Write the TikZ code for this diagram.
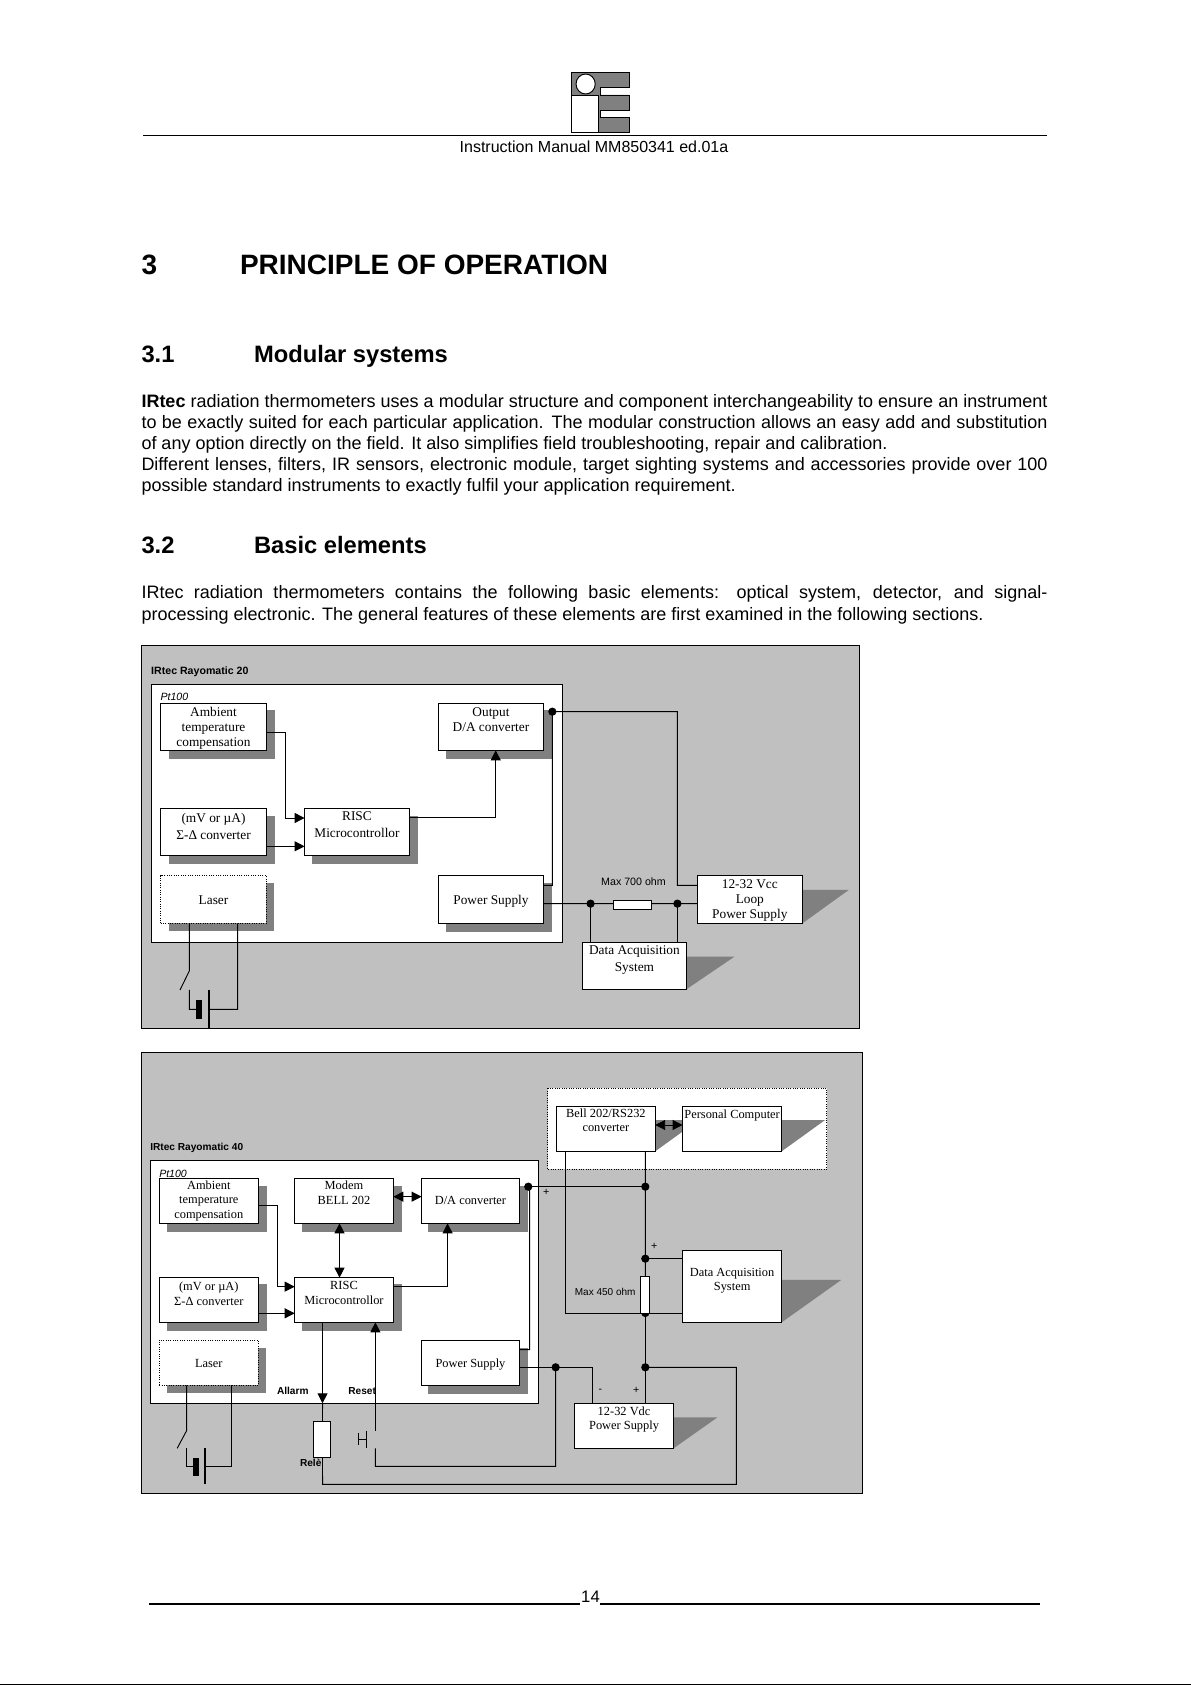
\documentclass[tikz,border=0pt]{standalone}
\usepackage{fontspec}
\setmainfont{Liberation Sans}
\newfontfamily\serifbox{Liberation Serif}
\usetikzlibrary{arrows.meta}
\tikzset{
  panel/.style={draw=black,line width=0.7pt,fill=panelgray},
  shade/.style={fill=shadowgray,draw=none},
  boxst/.style={draw=black,line width=0.75pt,fill=white,inner sep=0pt,outer sep=0pt},
  dotbox/.style={densely dotted},
  wire/.style={draw=black,line width=0.7pt},
  arr/.style={wire,-{Triangle[length=7.5pt,width=7.5pt]}},
  darr/.style={wire,{Triangle[length=7.5pt,width=7.5pt]}-{Triangle[length=7.5pt,width=7.5pt]}},
  jn/.style={circle,fill=black,draw=none,minimum size=6.2pt,inner sep=0pt,outer sep=0pt},
  res/.style={draw=black,line width=0.7pt,fill=white,inner sep=0pt,outer sep=0pt},
  txt/.style={inner sep=0pt,outer sep=0pt},
  fa/.style={font=\serifbox\fontsize{10}{11.5}\selectfont},
  fb/.style={font=\serifbox\fontsize{9.3}{11.2}\selectfont},
  lab/.style={txt,font=\fontsize{8}{10}\selectfont},
  blab/.style={txt,font=\bfseries\fontsize{7.6}{10}\selectfont},
  ilab/.style={txt,font=\itshape\fontsize{7.9}{10}\selectfont},
  body/.style={txt,anchor=base west,font=\fontsize{13.5}{16}\selectfont},
  hone/.style={txt,anchor=base west,font=\bfseries\fontsize{21}{24}\selectfont},
  htwo/.style={txt,anchor=base west,font=\bfseries\fontsize{17.8}{21}\selectfont},
}
\definecolor{panelgray}{HTML}{C0C0C0}
\definecolor{shadowgray}{HTML}{808080}
% [options]{name}{x1}{y1}{x2}{y2}{first-line offset}{text}
\newcommand\zbox[8][]{%
  \pgfmathsetlengthmacro\zw{(#5-#3)*0.4719*0.75}%
  \pgfmathsetlengthmacro\zh{(#6-#4)*0.25}%
  \pgfmathsetlengthmacro\zg{#7*0.25-4.8}%
  \node[boxst,#1,minimum width=\zw,minimum height=\zh,anchor=north west] (#2) at (#3,#4)
    {\parbox[c][\zh][t]{\zw}{\centering\vspace*{\zg}\strut #8}};}
\newcommand\zshade[4]{\fill[shade] (#1,#2) rectangle (#3,#4);}
\newcommand\zwedge[4]{\fill[shade] (#1,#2) -- (#3,#2) -- (#1,#4) -- cycle;}
\newcommand\jline[3]{\node[body] (#1) at (141.5,#2) {\makebox[679.5pt][s]{#3}};}
\newcommand\pline[3]{\node[body] (#1) at (141.5,#2) {#3};}
\begin{document}
\begin{tikzpicture}[x=0.75pt,y=-0.75pt]
\useasboundingbox (0,0) rectangle (1191,1685);
\fill[white] (0,0) rectangle (1191,1685);

% ---------- header ----------
\begin{scope}[shift={(130,50)},xscale=0.5995,yscale=0.3333]
  \draw[black,line width=0.7pt,fill=shadowgray] (737,67) -- (833,67) -- (833,112) -- (785,112) -- (785,135) -- (833,135) -- (833,180) -- (785,180) -- (785,202) -- (833,202) -- (833,248) -- (737,248) -- cycle;
  \draw[black,line width=0.7pt,fill=white] (737,137) rectangle (782,246);
  \draw[black,line width=0.7pt,fill=white] (760,102) ellipse [x radius=16,y radius=30];
\end{scope}
\draw[black,line width=0.7pt] (143,135.3) -- (1047,135.3);
\node[txt,anchor=base,font=\fontsize{12}{14}\selectfont] (hdr) at (594,152) {Instruction Manual MM850341 ed.01a};

% ---------- text ----------
\node[hone] (n3) at (141.5,274) {3};
\node[hone] (t3) at (240,274) {PRINCIPLE OF OPERATION};
\node[htwo] (n31) at (141.5,362) {3.1};
\node[htwo] (t31) at (254,362) {Modular systems};
\jline{l1}{407.7}{\textbf{IRtec} radiation thermometers uses a modular structure and component interchangeability to ensure an instrument}
\jline{l2}{428.5}{to be exactly suited for each particular application. The modular construction allows an easy add and substitution}
\pline{l3}{449}{of any option directly on the field. It also simplifies field troubleshooting, repair and calibration.}
\jline{l4}{470}{Different lenses, filters, IR sensors, electronic module, target sighting systems and accessories provide over 100}
\pline{l5}{491.3}{possible standard instruments to exactly fulfil your application requirement.}
\node[htwo] (n32) at (141.5,553.3) {3.2};
\node[htwo] (t32) at (254,553.3) {Basic elements};
\jline{l6}{598.7}{IRtec radiation thermometers contains the following basic elements: optical system, detector, and signal-}
\pline{l7}{620}{processing electronic. The general features of these elements are first examined in the following sections.}

% ---------- diagram 1 ----------
\begin{scope}[shift={(130,630)},xscale=0.4719,yscale=0.3333]
  \draw[panel] (24,46) rectangle (1546,1195);
  \draw[boxst] (45,164) rectangle (916,937);
  \node[blab,anchor=west,font=\bfseries\fontsize{7.95}{10}\selectfont] (d1t) at (45,124) {IRtec Rayomatic 20};
  \node[ilab,anchor=west] (d1p) at (65,201) {Pt100};
  \zshade{83}{240}{307}{386}
  \zshade{83}{558}{307}{701}
  \zshade{386}{558}{610}{701}
  \zshade{670}{240}{894}{386}
  \zshade{670}{759}{894}{906}
  \zshade{83}{759}{305}{903}
  \zwedge{1425}{780}{1523}{880}
  \zwedge{1179}{980}{1281}{1078}
  \zbox[fa]{aamb}{65}{221}{289}{361}{24}{Ambient\\temperature\\compensation}
  \zbox[fa]{asd}{65}{536}{289}{676}{28}{(mV or µA)\\[1.5pt]Σ-Δ converter}
  \zbox[fa]{arisc}{370}{536}{592}{676}{24}{RISC\\[1pt]Microcontrollor}
  \zbox[fa]{aout}{654}{221}{876}{361}{24}{Output\\D/A converter}
  \zbox[fa]{aps}{654}{737}{876}{880}{73}{Power Supply}
  \zbox[fa,dotbox]{alas}{65}{737}{289}{880}{73}{Laser}
  \zbox[fa]{aloop}{1202}{737}{1425}{880}{25}{12-32 Vcc\\Loop\\Power Supply}
  \zbox[fa]{adaq}{959}{938}{1179}{1078}{24}{Data Acquisition\\[1pt]System}
  \draw[res] (1024,811) rectangle (1105,838);
  \coordinate (ares1) at (1024,821);
  \coordinate (ares2) at (1105,821);
  \node[lab] (am) at (1067,754) {Max 700 ohm};
  \node[jn] (aj1) at (895,245) {};
  \node[jn] (aj2) at (976,821) {};
  \node[jn] (aj3) at (1160,821) {};
  \draw[wire] (aj1.center) -- (1160,245) -- (1160,766) -- (aloop.west |- 0,766);
  \draw[wire] (aj1.center) -- (895,766) -- (aps.east |- 0,766);
  \draw[arr] (aamb.east |- 0,307) -- (329,307) -- (329,564) -- (arisc.west |- 0,564);
  \draw[arr] (asd.east |- 0,649) -- (arisc.west |- 0,649);
  \draw[arr] (arisc.east |- 0,562) -- (775,562) -- (aout.south -| 775,0);
  \draw[wire] (aps.east |- 0,821) -- (ares1);
  \draw[wire] (ares2) -- (aloop.west |- 0,821);
  \draw[wire] (aj2.center) -- (adaq.north -| aj2.center);
  \draw[wire] (aj3.center) -- (adaq.north -| aj3.center);
  % laser, switch, battery
  \coordinate (asw) at (126,1022);
  \coordinate (asx) at (106,1080);
  \coordinate (asy) at (126,1080);
  \coordinate (abm) at (140,1138);
  \coordinate (abn) at (167,1138);
  \draw[wire] (alas.south -| 126,0) -- (asw) -- (asx);
  \draw[wire] (asy) -- (126,1138) -- (abm);
  \fill[black] (140,1110) rectangle (153,1166);
  \draw[black,line width=1.3pt] (167,1080) -- (167,1195);
  \draw[wire] (abn) -- (228,1138) -- (alas.south -| 228,0);
\end{scope}

% ---------- diagram 2 ----------
\begin{scope}[shift={(130,1040)},xscale=0.4719,yscale=0.3333]
  \draw[panel] (24,37) rectangle (1552,1360);
  \draw[boxst,dotbox] (885,145) rectangle (1476,388);
  \draw[boxst] (43,362) rectangle (866,1090);
  \node[blab,anchor=west] (d2t) at (43,323) {IRtec Rayomatic 40};
  \node[ilab,anchor=west] (d2p) at (62,401) {Pt100};
  \zshade{78}{438}{290}{575}
  \zshade{364}{438}{576}{575}
  \zshade{631}{438}{843}{575}
  \zshade{78}{733}{290}{872}
  \zshade{364}{733}{576}{872}
  \zshade{78}{924}{288}{1059}
  \zshade{631}{924}{843}{1061}
  \zwedge{1113}{240}{1205}{334}
  \zwedge{1381}{240}{1473}{334}
  \zwedge{1381}{720}{1507}{847}
  \zwedge{1152}{1132}{1245}{1225}
  \zbox[fb]{bamb}{62}{416}{272}{550}{19}{Ambient\\temperature\\compensation}
  \zbox[fb]{bmod}{349}{416}{558}{550}{21}{Modem\\BELL 202}
  \zbox[fb]{bda}{618}{416}{825}{550}{65}{D/A converter}
  \zbox[fb]{bsd}{62}{713}{272}{847}{26}{(mV or µA)\\Σ-Δ converter}
  \zbox[fb]{brisc}{349}{713}{558}{847}{23}{RISC\\Microcontrollor}
  \zbox[fb,dotbox]{blas}{62}{901}{272}{1036}{68}{Laser}
  \zbox[fb]{bps}{618}{901}{825}{1036}{68}{Power Supply}
  \zbox[fb]{bbell}{904}{199}{1113}{334}{20}{Bell 202/RS232\\converter}
  \zbox[fb]{bpc}{1171}{199}{1381}{334}{23}{Personal Computer}
  \zbox[fb]{bdaq}{1171}{632}{1381}{847}{64}{Data Acquisition\\System}
  \zbox[fb]{bpsu}{942}{1090}{1152}{1225}{23}{12-32 Vdc\\Power Supply}
  \node[jn] (bj1) at (844,440) {};
  \node[jn] (bj2) at (1092,440) {};
  \node[jn] (bj3) at (1092,656) {};
  \node[jn] (bj4) at (1092,819) {};
  \node[jn] (bj5) at (1092,982) {};
  \node[jn] (bj6) at (902,982) {};
  \draw[wire] (bbell.south -| bj2.center) -- (bj2.center) -- (1092,710);
  \draw[wire] (bj4.center) -- (bpsu.north -| bj4.center);
  \draw[wire] (bbell.south -| 923,0) -- (923,820) -- (bdaq.west |- 0,820);
  \draw[wire] (bj1.center) -- (bj2.center);
  \draw[wire] (bj1.center) -- (847,440) -- (847,929) -- (bps.east |- 0,929);
  \draw[wire] (bj3.center) -- (bdaq.west |- bj3.center);
  \draw[darr] (bmod.east |- 0,470) -- (bda.west |- 0,470);
  \draw[darr] (bbell.east |- 0,255) -- (bpc.west |- 0,255);
  \draw[darr] (bmod.south -| 444,0) -- (brisc.north -| 444,0);
  \draw[arr] (bamb.east |- 0,496) -- (312,496) -- (312,740) -- (brisc.west |- 0,740);
  \draw[arr] (bsd.east |- 0,820) -- (brisc.west |- 0,820);
  \draw[arr] (brisc.east |- 0,740) -- (673,740) -- (bda.south -| 673,0);
  \coordinate (brl1) at (408,1145);
  \coordinate (brl2) at (408,1252);
  \draw[arr] (brisc.south -| 408,0) -- (408,1090);
  \draw[wire] (408,1090) -- (brl1);
  \draw[res] (389,1145) rectangle (425,1252);
  \draw[res] (1082,710) rectangle (1101,819);
  \draw[wire] (brl2) -- (408,1333) -- (1285,1333) -- (1285,982) -- (bj5.center);
  \draw[arr] (520,1172) -- (brisc.south -| 520,0);
  \draw[wire] (520,1225) -- (520,1279) -- (902,1279) -- (bj6.center);
  \draw[wire] (501,1172) -- (501,1225);
  \draw[wire] (484,1197) -- (501,1197);
  \draw[wire] (484,1180) -- (484,1215);
  \draw[wire] (bps.east |- 0,982) -- (980,982) -- (bpsu.north -| 980,0);
  % laser, switch, battery
  \draw[wire] (blas.south -| 120,0) -- (120,1172) -- (100,1225);
  \draw[wire] (120,1225) -- (120,1279) -- (133,1279);
  \fill[black] (133,1255) rectangle (146,1307);
  \draw[black,line width=1.3pt] (159,1225) -- (159,1333);
  \draw[wire] (159,1279) -- (215,1279) -- (blas.south -| 215,0);
  % labels
  \node[blab] (bal) at (345,1052) {Allarm};
  \node[blab] (bre) at (492,1052) {Reset};
  \node[blab] (brl) at (383,1268) {Relè};
  \node[lab] (bp1) at (882,457) {+};
  \node[lab] (bp2) at (1111,620) {+};
  \node[lab] (bp3) at (997,1053) {-};
  \node[lab] (bp4) at (1073,1051) {+};
  \node[lab,font=\fontsize{7.5}{10}\selectfont] (bmx) at (1007,755) {Max 450 ohm};
\end{scope}

% ---------- footer ----------
\node[txt,anchor=base,font=\fontsize{12.5}{14}\selectfont] (pg) at (590.5,1602) {14};
\draw[black,line width=1.7pt] (149,1603.7) -- (580,1603.7);
\draw[black,line width=1.7pt] (600,1603.7) -- (1040,1603.7);
\draw[black,line width=0.8pt] (0,1684.3) -- (1191,1684.3);
\end{tikzpicture}
\end{document}
